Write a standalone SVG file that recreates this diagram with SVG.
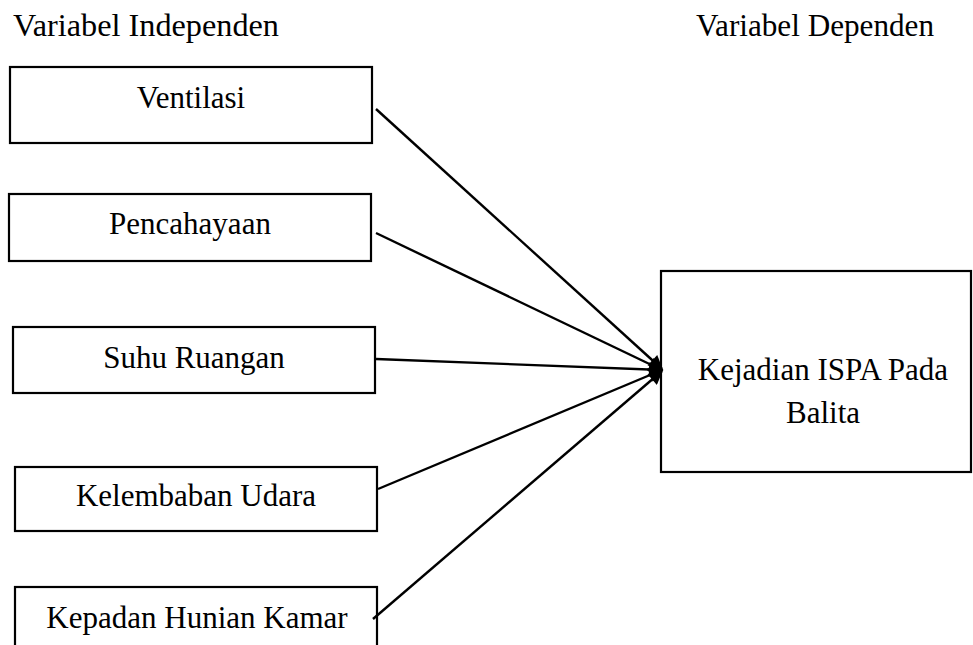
<svg xmlns="http://www.w3.org/2000/svg" width="973" height="645" viewBox="0 0 973 645">
<style>
  .box { fill: #ffffff; stroke: #000000; stroke-width: 2.2; }
  .lbl { font-family: "Liberation Serif", "Times New Roman", serif; font-size: 31px; fill: #000000; text-anchor: middle; }
  .hdr { font-family: "Liberation Serif", "Times New Roman", serif; font-size: 31px; fill: #000000; }
  .conn { stroke: #000000; stroke-width: 2.4; fill: none; marker-end: url(#arr); }
</style>
<defs>
  <marker id="arr" viewBox="0 0 10 10" refX="9" refY="5" markerWidth="7.5" markerHeight="6" markerUnits="strokeWidth" orient="auto">
    <path d="M0,0 L10,5 L0,10 z" fill="#000000"/>
  </marker>
</defs>
<rect width="973" height="645" fill="#ffffff"/>
<text class="hdr" x="13" y="36" textLength="266" lengthAdjust="spacingAndGlyphs">Variabel Independen</text>
<text class="hdr" x="696" y="36" textLength="238" lengthAdjust="spacingAndGlyphs">Variabel Dependen</text>
<g id="n-ventilasi">
  <rect class="box" x="10" y="67" width="362" height="76"/>
  <text class="lbl" x="191" y="108">Ventilasi</text>
</g>
<g id="n-pencahayaan">
  <rect class="box" x="9" y="194" width="362" height="67"/>
  <text class="lbl" x="190" y="234">Pencahayaan</text>
</g>
<g id="n-suhu">
  <rect class="box" x="13" y="327" width="362" height="66"/>
  <text class="lbl" x="194" y="368">Suhu Ruangan</text>
</g>
<g id="n-kelembaban">
  <rect class="box" x="15" y="467" width="362" height="64"/>
  <text class="lbl" x="196" y="506">Kelembaban Udara</text>
</g>
<g id="n-kepadan">
  <rect class="box" x="15" y="587" width="362" height="80"/>
  <text class="lbl" x="197" y="628">Kepadan Hunian Kamar</text>
</g>
<g id="n-kejadian">
  <rect class="box" x="661" y="271" width="310" height="201"/>
  <text class="lbl" x="823" y="380">Kejadian ISPA Pada</text>
  <text class="lbl" x="823" y="423">Balita</text>
</g>
<g id="connectors">
  <line class="conn" x1="376" y1="109" x2="662" y2="369"/>
  <line class="conn" x1="376" y1="233" x2="662" y2="370"/>
  <line class="conn" x1="376" y1="359" x2="662" y2="370"/>
  <line class="conn" x1="378" y1="489" x2="662" y2="370"/>
  <line class="conn" x1="373" y1="619" x2="662" y2="371"/>
</g>
</svg>
